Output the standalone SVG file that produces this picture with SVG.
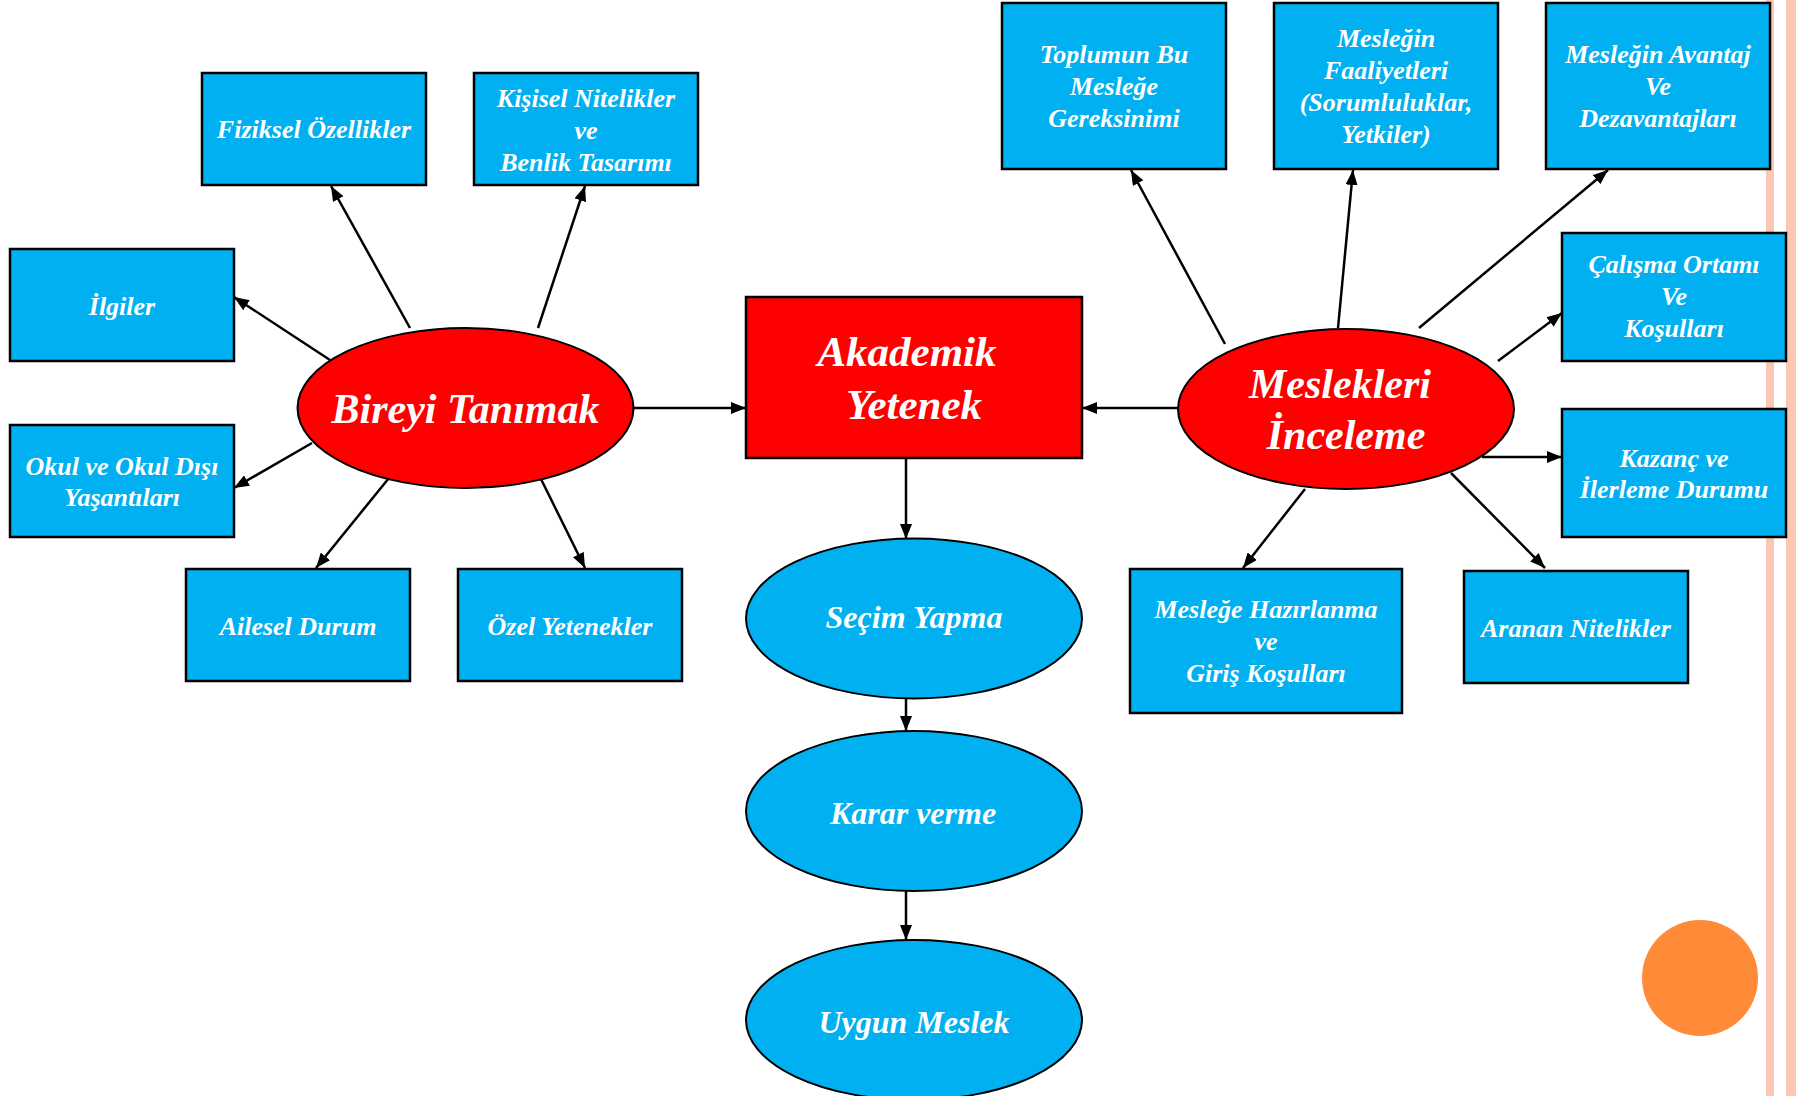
<svg xmlns="http://www.w3.org/2000/svg" width="1796" height="1096" viewBox="0 0 1796 1096">
<defs>
<style>
.box{fill:#00B0F0;stroke:#000;stroke-width:2.5}
.red{fill:#FF0000;stroke:#000;stroke-width:2}
.blue{fill:#00B0F0;stroke:#000;stroke-width:2}
.t{font-family:"Liberation Serif","Times New Roman",serif;font-weight:bold;font-style:italic;fill:#fff;text-anchor:middle}
.s{font-size:26px}
.l{font-size:42px}
.m{font-size:32px}
.c{stroke:#000;stroke-width:2.5;fill:none;marker-end:url(#ah)}
</style>
<marker id="ah" markerUnits="userSpaceOnUse" markerWidth="16" markerHeight="12" refX="15" refY="6" orient="auto">
<path d="M0,0 L15,6 L0,12 z" fill="#000"/>
</marker>
</defs>
<rect width="1796" height="1096" fill="#fff"/>
<g id="decor">
<rect x="1766" y="0" width="8" height="1096" fill="#FDC7B3"/>
<rect x="1786" y="0" width="10" height="1096" fill="#FDC7B3"/>
<circle cx="1700" cy="978" r="58" fill="#FF8A38"/>
</g>
<g id="connectors">
<line class="c" x1="410" y1="328" x2="331" y2="186"/>
<line class="c" x1="538" y1="328" x2="585" y2="186"/>
<line class="c" x1="330" y1="360" x2="234" y2="297"/>
<line class="c" x1="312" y1="443" x2="234" y2="488"/>
<line class="c" x1="393" y1="473" x2="316" y2="568"/>
<line class="c" x1="538" y1="473" x2="585" y2="568"/>
<line class="c" x1="634" y1="408" x2="746" y2="408"/>
<line class="c" x1="1178" y1="408" x2="1082" y2="408"/>
<line class="c" x1="1225" y1="344" x2="1131" y2="170"/>
<line class="c" x1="1338" y1="328" x2="1353" y2="170"/>
<line class="c" x1="1419" y1="328" x2="1608" y2="170"/>
<line class="c" x1="1498" y1="361" x2="1562" y2="313"/>
<line class="c" x1="1482" y1="457" x2="1562" y2="457"/>
<line class="c" x1="1305" y1="489" x2="1243" y2="568"/>
<line class="c" x1="1451" y1="473" x2="1545" y2="568"/>
<line class="c" x1="906" y1="458" x2="906" y2="539"/>
<line class="c" x1="906" y1="698" x2="906" y2="731"/>
<line class="c" x1="906" y1="891" x2="906" y2="940"/>
</g>
<g id="n-bireyi">
<ellipse class="red" cx="465.5" cy="408" rx="168" ry="80"/>
<text class="t l" x="465.5" y="423">Bireyi Tanımak</text>
</g>
<g id="n-fiziksel">
<rect class="box" x="202" y="73" width="224" height="112"/>
<text class="t s" x="314" y="138">Fiziksel Özellikler</text>
</g>
<g id="n-kisisel">
<rect class="box" x="474" y="73" width="224" height="112"/>
<text class="t s" x="586" y="107">Kişisel Nitelikler</text>
<text class="t s" x="586" y="139">ve</text>
<text class="t s" x="586" y="171">Benlik Tasarımı</text>
</g>
<g id="n-ilgiler">
<rect class="box" x="10" y="249" width="224" height="112"/>
<text class="t s" x="122" y="315">İlgiler</text>
</g>
<g id="n-okul">
<rect class="box" x="10" y="425" width="224" height="112"/>
<text class="t s" x="122" y="475">Okul ve Okul Dışı</text>
<text class="t s" x="122" y="506">Yaşantıları</text>
</g>
<g id="n-ailesel">
<rect class="box" x="186" y="569" width="224" height="112"/>
<text class="t s" x="298" y="635">Ailesel Durum</text>
</g>
<g id="n-ozel">
<rect class="box" x="458" y="569" width="224" height="112"/>
<text class="t s" x="570" y="635">Özel Yetenekler</text>
</g>
<g id="n-akademik">
<rect class="box" style="fill:#FF0000" x="746" y="297" width="336" height="161"/>
<text class="t" style="font-size:43px" x="907" y="366">Akademik</text>
<text class="t" style="font-size:43px" x="914" y="419">Yetenek</text>
</g>
<g id="n-secim">
<ellipse class="blue" cx="914" cy="618.5" rx="168" ry="80"/>
<text class="t m" x="914" y="628">Seçim Yapma</text>
</g>
<g id="n-karar">
<ellipse class="blue" cx="914" cy="811" rx="168" ry="80"/>
<text class="t m" x="913" y="824">Karar verme</text>
</g>
<g id="n-uygun">
<ellipse class="blue" cx="914" cy="1020" rx="168" ry="80"/>
<text class="t m" x="914" y="1033">Uygun Meslek</text>
</g>
<g id="n-meslekleri">
<ellipse class="red" cx="1346" cy="409" rx="168" ry="80"/>
<text class="t l" x="1340" y="398">Meslekleri</text>
<text class="t l" x="1346" y="449">İnceleme</text>
</g>
<g id="n-toplumun">
<rect class="box" x="1002" y="3" width="224" height="166"/>
<text class="t s" x="1114" y="63">Toplumun Bu</text>
<text class="t s" x="1114" y="95">Mesleğe</text>
<text class="t s" x="1114" y="127">Gereksinimi</text>
</g>
<g id="n-faaliyet">
<rect class="box" x="1274" y="3" width="224" height="166"/>
<text class="t s" x="1386" y="47">Mesleğin</text>
<text class="t s" x="1386" y="79">Faaliyetleri</text>
<text class="t s" x="1386" y="111">(Sorumluluklar,</text>
<text class="t s" x="1386" y="143">Yetkiler)</text>
</g>
<g id="n-avantaj">
<rect class="box" x="1546" y="3" width="224" height="166"/>
<text class="t s" x="1658" y="63">Mesleğin Avantaj</text>
<text class="t s" x="1658" y="95">Ve</text>
<text class="t s" x="1658" y="127">Dezavantajları</text>
</g>
<g id="n-calisma">
<rect class="box" x="1562" y="233" width="224" height="128"/>
<text class="t s" x="1674" y="273">Çalışma Ortamı</text>
<text class="t s" x="1674" y="305">Ve</text>
<text class="t s" x="1674" y="337">Koşulları</text>
</g>
<g id="n-kazanc">
<rect class="box" x="1562" y="409" width="224" height="128"/>
<text class="t s" x="1674" y="467">Kazanç ve</text>
<text class="t s" x="1674" y="498">İlerleme Durumu</text>
</g>
<g id="n-hazirlanma">
<rect class="box" x="1130" y="569" width="272" height="144"/>
<text class="t s" x="1266" y="618">Mesleğe Hazırlanma</text>
<text class="t s" x="1266" y="650">ve</text>
<text class="t s" x="1266" y="682">Giriş Koşulları</text>
</g>
<g id="n-aranan">
<rect class="box" x="1464" y="571" width="224" height="112"/>
<text class="t s" x="1576" y="637">Aranan Nitelikler</text>
</g>
</svg>
